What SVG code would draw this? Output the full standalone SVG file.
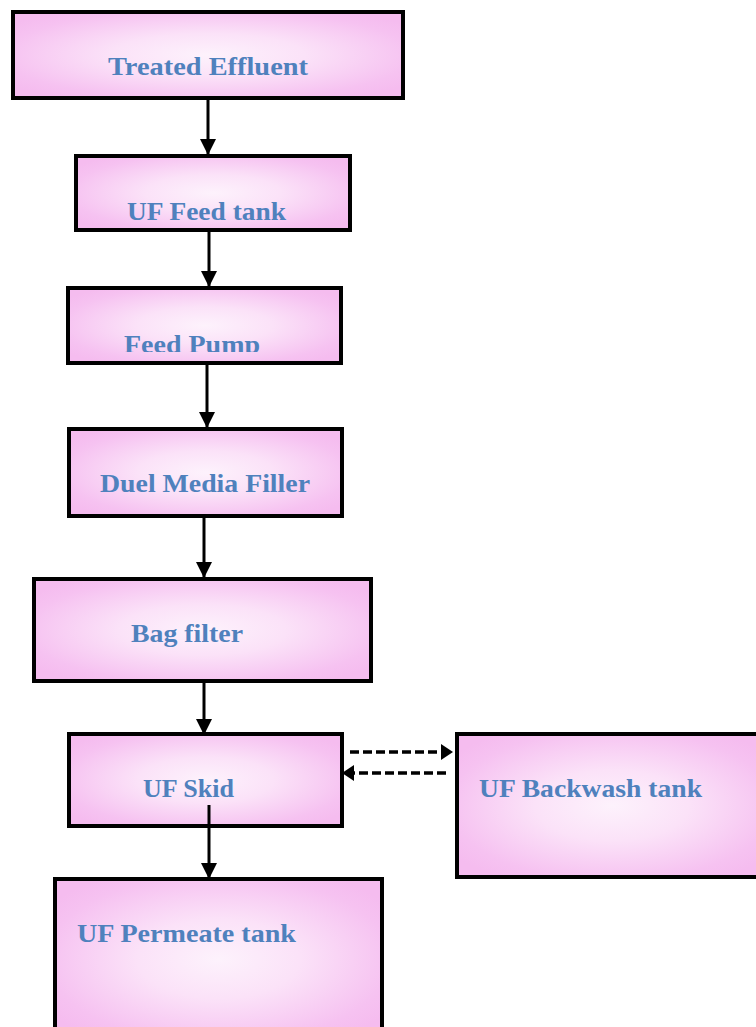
<svg xmlns="http://www.w3.org/2000/svg" width="756" height="1027" viewBox="0 0 756 1027">
<defs>
<radialGradient id="pink" cx="50%" cy="50%" r="62%">
<stop offset="0" stop-color="#fdf2fc"/>
<stop offset="0.4" stop-color="#fbe2f8"/>
<stop offset="0.85" stop-color="#f6c2f1"/>
<stop offset="1" stop-color="#f5bcef"/>
</radialGradient>
<marker id="ah" markerUnits="userSpaceOnUse" markerWidth="16" markerHeight="16" refX="15" refY="8" orient="auto">
<path d="M0,0 L16,8 L0,16 Z" fill="#000"/>
</marker>
<marker id="ahs" markerUnits="userSpaceOnUse" markerWidth="12" markerHeight="16" refX="11" refY="8" orient="auto">
<path d="M0,0 L12,8 L0,16 Z" fill="#000"/>
</marker>
<clipPath id="fpclip"><rect x="60" y="280" width="300" height="72"/></clipPath>
</defs>
<style>
.box{fill:url(#pink);stroke:#000;stroke-width:4}
.lbl{font-family:"Liberation Serif","DejaVu Serif",serif;font-weight:bold;font-size:26px;fill:#4f81bd}
.conn{stroke:#000;stroke-width:3;fill:none}
.dash{stroke-width:3.5;stroke-dasharray:9,4}
</style>
<rect width="756" height="1027" fill="#fff"/>
<g id="treated-effluent">
<rect class="box" x="13" y="12" width="390" height="86"/>
<text class="lbl" x="108" y="75" textLength="200" lengthAdjust="spacingAndGlyphs">Treated Effluent</text>
</g>
<g id="uf-feed-tank">
<rect class="box" x="76" y="156" width="274" height="74"/>
<text class="lbl" x="127" y="220" textLength="159" lengthAdjust="spacingAndGlyphs">UF Feed tank</text>
</g>
<g id="feed-pump">
<rect class="box" x="68" y="288" width="273" height="75"/>
<text class="lbl" x="124" y="353" textLength="136" lengthAdjust="spacingAndGlyphs" clip-path="url(#fpclip)">Feed Pump</text>
</g>
<g id="duel-media-filler">
<rect class="box" x="69" y="429" width="273" height="87"/>
<text class="lbl" x="100" y="492" textLength="210" lengthAdjust="spacingAndGlyphs">Duel Media Filler</text>
</g>
<g id="bag-filter">
<rect class="box" x="34" y="579" width="337" height="102"/>
<text class="lbl" x="131" y="642" textLength="112" lengthAdjust="spacingAndGlyphs">Bag filter</text>
</g>
<g id="uf-skid">
<rect class="box" x="69" y="734" width="273" height="92"/>
<text class="lbl" x="143" y="797" textLength="91" lengthAdjust="spacingAndGlyphs">UF Skid</text>
</g>
<g id="uf-backwash-tank">
<rect class="box" x="457" y="734" width="310" height="143"/>
<text class="lbl" x="479" y="797" textLength="223" lengthAdjust="spacingAndGlyphs">UF Backwash tank</text>
</g>
<g id="uf-permeate-tank">
<rect class="box" x="55" y="879" width="327" height="160"/>
<text class="lbl" x="77" y="942" textLength="219" lengthAdjust="spacingAndGlyphs">UF Permeate tank</text>
</g>
<g id="connectors">
<line class="conn" x1="208" y1="99" x2="208" y2="154" marker-end="url(#ah)"/>
<line class="conn" x1="209" y1="230" x2="209" y2="286" marker-end="url(#ah)"/>
<line class="conn" x1="207" y1="365" x2="207" y2="427" marker-end="url(#ah)"/>
<line class="conn" x1="204" y1="518" x2="204" y2="577" marker-end="url(#ah)"/>
<line class="conn" x1="204" y1="683" x2="204" y2="734" marker-end="url(#ah)"/>
<line class="conn dash" x1="350" y1="752" x2="452" y2="752" marker-end="url(#ahs)"/>
<line class="conn dash" x1="446" y1="773" x2="343" y2="773" marker-end="url(#ahs)"/>
<line class="conn" x1="209" y1="805" x2="209" y2="878" marker-end="url(#ah)"/>
</g>
</svg>
